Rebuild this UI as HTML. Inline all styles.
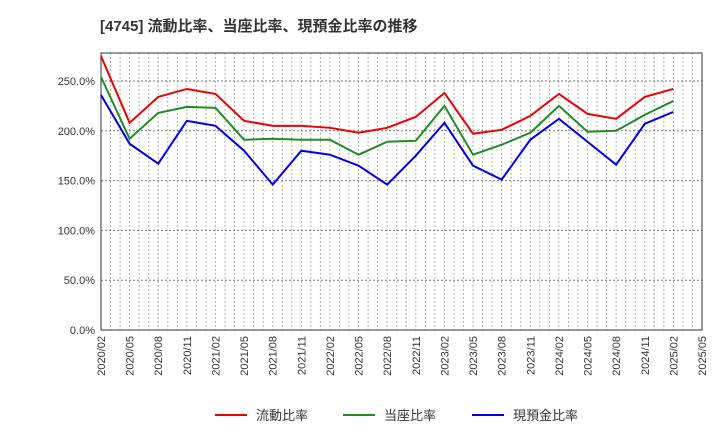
<!DOCTYPE html>
<html><head><meta charset="utf-8"><style>
body{margin:0;background:#fff;font-family:"Liberation Sans","Noto Sans CJK JP",sans-serif}
</style></head><body>
<svg id="c" width="720" height="440" xmlns="http://www.w3.org/2000/svg">
<text x="100" y="31" font-size="15" font-weight="bold" fill="#333" font-family="Liberation Sans,Noto Sans CJK JP,sans-serif">[4745]  流動比率、当座比率、現預金比率の推移</text>
<g id="grid"></g><g id="axes"></g><g id="series"></g><g id="legend"></g>
</svg>
<script>
const categories=["2020/02","2020/05","2020/08","2020/11","2021/02","2021/05","2021/08","2021/11","2022/02","2022/05","2022/08","2022/11","2023/02","2023/05","2023/08","2023/11","2024/02","2024/05","2024/08","2024/11","2025/02"];
const tickLabels=["2020/02","2020/05","2020/08","2020/11","2021/02","2021/05","2021/08","2021/11","2022/02","2022/05","2022/08","2022/11","2023/02","2023/05","2023/08","2023/11","2024/02","2024/05","2024/08","2024/11","2025/02","2025/05"];
const yTicks=[0,50,100,150,200,250];
const currentRatio=[275,208,234,242,237,210,205,205,203,198,203,214,238,197,201,215,237,217,212,234,242];
const quickRatio=[254,192,218,224,223,191,192,191,191,176,189,190,225,176,186,198,225,199,200,216,230];
const cashRatio=[236,187,167,210,205,180,146,180,176,165,146,175,208,165,151,191,212,189,166,207,219];
const NS="http://www.w3.org/2000/svg";
const L=101,R=702,T=53,B=330;
const x=i=>L+(R-L)*i/21;
const y=v=>B-v*0.996;
function mk(p,t,a){const e=document.createElementNS(NS,t);for(const k in a)e.setAttribute(k,a[k]);p.appendChild(e);return e;}
const g=document.getElementById('grid'),ax=document.getElementById('axes'),s=document.getElementById('series'),lg=document.getElementById('legend');
for(let m=1;m<63;m++){const xx=L+(R-L)*m/63;const ln=mk(g,'line',{x1:xx,x2:xx,y1:T,y2:B,stroke:'#999','stroke-dasharray':'1.5,2.5','stroke-width':1});

}
yTicks.forEach(v=>{if(v>0){const ln=mk(g,'line',{x1:L,x2:R,y1:y(v),y2:y(v),stroke:'#777','stroke-dasharray':'2,2','stroke-width':1});

}
const t=mk(ax,'text',{x:L-6,y:y(v)+4,'text-anchor':'end','font-size':11,fill:'#333'});t.textContent=v.toFixed(1)+'%';

});
tickLabels.forEach((lb,i)=>{const xx=x(i);const t=mk(ax,'text',{x:xx+4,y:B+6,'text-anchor':'end','font-size':11,fill:'#333',transform:`rotate(-90 ${xx+4} ${B+6})`});t.textContent=lb;

});
const fr=mk(ax,'rect',{x:L,y:T,width:R-L,height:B-T,fill:'none',stroke:'#333','stroke-width':1});


const ser=[[currentRatio,'#e00','current-ratio-line','流動比率'],[quickRatio,'#228b22','quick-ratio-line','当座比率'],[cashRatio,'#00e','cash-ratio-line','現預金比率']];
ser.forEach(([d,c,n])=>{const p=mk(s,'polyline',{points:d.map((v,i)=>x(i)+','+y(v)).join(' '),fill:'none',stroke:c,'stroke-width':2});

});
const lx=[215,343,472];
ser.forEach(([d,c,n,lb],i)=>{const gg=mk(lg,'g',{});


mk(gg,'line',{x1:lx[i],x2:lx[i]+32,y1:415,y2:415,stroke:c,'stroke-width':2});
const t=mk(gg,'text',{x:lx[i]+41,y:420,'font-size':13,fill:'#333'});t.textContent=lb;});
</script>
</body></html>
